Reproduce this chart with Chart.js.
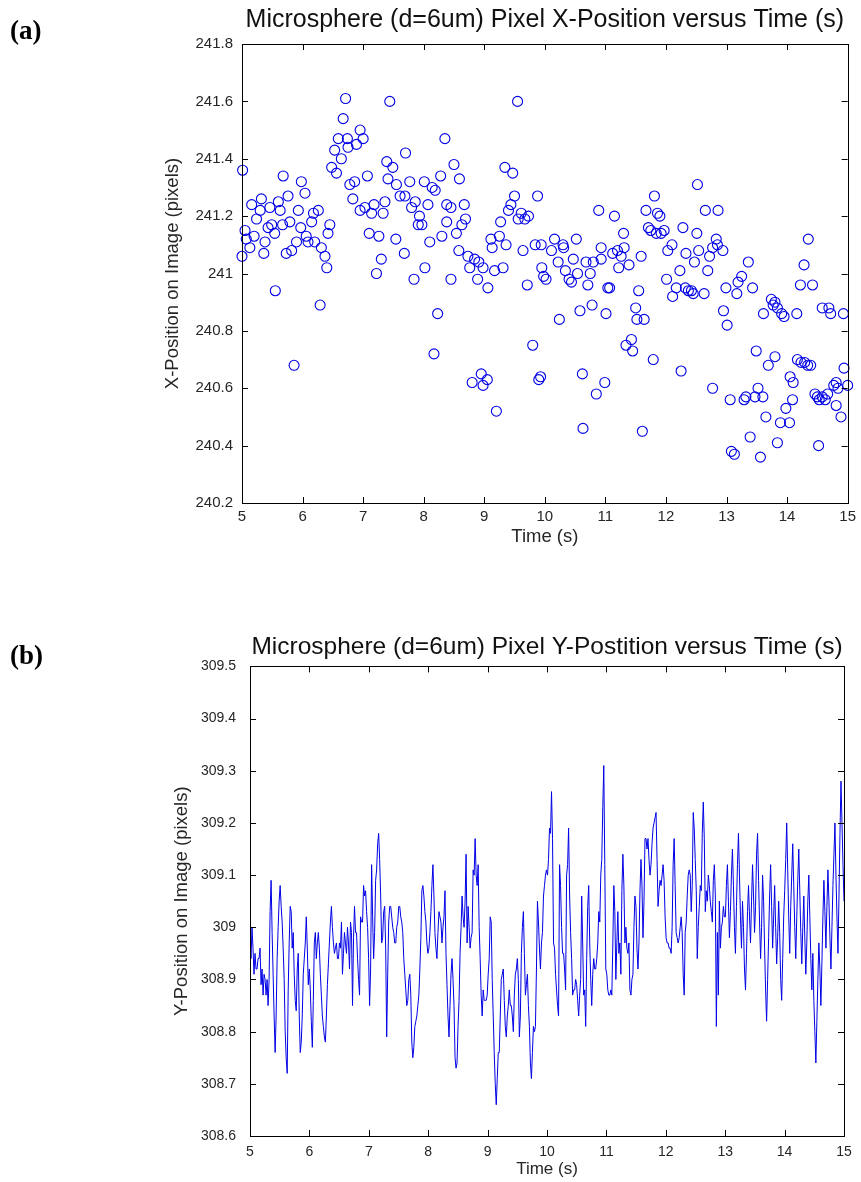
<!DOCTYPE html>
<html>
<head>
<meta charset="utf-8">
<script src="https://cdn.jsdelivr.net/npm/chart.js@4.4.0/dist/chart.umd.min.js"></script>
<style>
  html, body { margin: 0; padding: 0; background: #fff; }
  body { width: 861px; height: 1182px; position: relative; overflow: hidden; }
  canvas { position: absolute; left: 0; }
  #chartA { top: 0; }
  #chartB { top: 620px; }
  .tag { position: absolute; left: 10px; font: bold 27px "Liberation Serif", "Times New Roman", serif; color: #000; z-index: 2; }
</style>
</head>
<body>
<div class="tag" style="top:15px">(a)</div>
<div class="tag" style="top:640px">(b)</div>
<canvas id="chartA" width="861" height="560"></canvas>
<canvas id="chartB" width="861" height="562"></canvas>
<script>
// (a) x-position of the microsphere, one circle per frame
const timeA = [
  5.00,5.01,5.05,5.07,5.13,5.16,5.20,5.24,5.30,5.32,5.36,5.38,5.43,5.46,5.49,5.54,5.55,5.60,5.63,5.67,5.68,5.73,5.76,5.79,5.82,5.86,5.90,5.93,5.97,5.98,
  6.04,6.06,6.09,6.15,6.18,6.20,6.26,6.29,6.31,6.37,6.40,6.42,6.45,6.48,6.53,6.56,6.59,6.64,6.67,6.71,6.74,6.75,6.78,6.83,6.86,6.89,6.95,6.95,
  7.00,7.03,7.07,7.10,7.14,7.18,7.22,7.26,7.30,7.33,7.36,7.39,7.41,7.44,7.49,7.54,7.55,7.61,7.68,7.69,7.70,7.77,7.80,7.84,7.86,7.91,7.93,7.97,
  8.01,8.02,8.07,8.10,8.14,8.17,8.19,8.23,8.28,8.30,8.35,8.38,8.38,8.45,8.45,8.50,8.54,8.58,8.59,8.63,8.67,8.69,8.73,8.76,8.80,8.84,8.89,8.91,8.95,8.98,8.98,
  9.05,9.06,9.11,9.13,9.17,9.20,9.25,9.27,9.31,9.34,9.36,9.40,9.44,9.47,9.50,9.55,9.56,9.61,9.64,9.67,9.71,9.73,9.80,9.84,9.88,9.90,9.93,9.94,9.95,9.98,
  10.02,10.11,10.16,10.22,10.24,10.30,10.31,10.34,10.40,10.44,10.47,10.52,10.54,10.58,10.62,10.63,10.68,10.71,10.75,10.78,10.80,10.85,10.89,10.93,10.93,10.99,
  11.01,11.04,11.07,11.12,11.15,11.20,11.22,11.26,11.30,11.31,11.34,11.39,11.43,11.45,11.50,11.52,11.55,11.59,11.61,11.64,11.67,11.71,11.75,11.79,11.81,11.84,11.86,11.90,11.92,11.97,
  12.01,12.03,12.10,12.11,12.17,12.23,12.25,12.28,12.32,12.33,12.37,12.42,12.45,12.47,12.51,12.52,12.54,12.63,12.65,12.69,12.72,12.77,12.77,12.83,12.85,12.86,12.94,12.95,12.99,
  13.01,13.06,13.08,13.13,13.17,13.19,13.25,13.29,13.32,13.36,13.39,13.43,13.47,13.49,13.52,13.56,13.60,13.61,13.65,13.69,13.74,13.77,13.80,13.80,13.84,13.84,13.89,13.91,13.95,13.98,
  14.04,14.05,14.09,14.10,14.16,14.17,14.22,14.23,14.28,14.29,14.34,14.35,14.39,14.42,14.46,14.50,14.52,14.53,14.58,14.58,14.63,14.67,14.69,14.72,14.77,14.81,14.81,14.84,14.89,14.93,14.94,15.00
];
const posA = [
  241.06,241.36,241.15,241.12,241.09,241.24,241.13,241.19,241.22,241.26,241.07,241.11,241.16,241.23,241.17,241.14,240.94,241.25,241.22,241.17,241.34,241.07,241.27,241.18,241.08,240.68,241.11,241.22,241.16,241.32,
  241.28,241.13,241.11,241.18,241.21,241.11,241.22,240.89,241.09,241.06,241.02,241.14,241.17,241.37,241.43,241.35,241.47,241.40,241.54,241.61,241.47,241.44,241.31,241.26,241.32,241.45,241.50,241.22,
  241.47,241.23,241.34,241.14,241.21,241.24,241.00,241.13,241.05,241.21,241.25,241.39,241.33,241.60,241.37,241.12,241.31,241.27,241.07,241.27,241.42,241.32,241.23,240.98,241.25,241.17,241.20,241.17,
  241.32,241.02,241.24,241.11,241.30,240.72,241.29,240.86,241.34,241.13,241.47,241.24,241.18,241.23,240.98,241.38,241.14,241.08,241.33,241.17,241.24,241.19,241.06,241.02,240.62,241.05,240.98,241.04,240.65,240.61,241.02,
  240.63,240.95,241.12,241.09,241.01,240.52,241.13,241.18,241.02,241.37,241.10,241.22,241.24,241.35,241.27,241.60,241.19,241.21,241.08,241.19,240.96,241.20,240.75,241.10,241.27,240.63,240.64,241.10,241.02,240.99,
  240.98,241.08,241.12,241.04,240.84,241.10,241.09,241.01,240.98,240.97,241.05,241.12,241.00,240.87,240.65,240.46,241.04,240.96,241.00,240.89,241.04,240.58,241.22,241.09,241.05,240.62,
  240.86,240.95,240.95,241.07,241.20,241.08,241.02,241.06,241.14,241.09,240.75,241.03,240.77,240.73,240.88,240.84,240.94,241.06,240.45,240.84,241.22,241.16,241.15,240.70,241.27,241.14,241.21,241.20,241.14,241.15,
  240.98,241.08,241.10,240.92,240.95,241.01,240.66,241.16,240.95,241.07,240.94,240.94,240.93,241.04,241.14,241.31,241.08,240.93,241.22,241.01,241.06,241.09,240.60,241.12,241.10,241.22,241.08,240.87,240.95,
  240.82,240.56,240.38,240.37,240.93,240.97,240.99,240.56,240.57,241.04,240.43,240.95,240.57,240.73,240.60,240.36,240.57,240.86,240.50,240.68,240.91,240.89,240.90,240.71,240.88,240.41,240.48,240.86,240.85,240.53,
  240.48,240.64,240.56,240.62,240.86,240.70,240.96,240.69,241.03,240.69,240.68,241.12,240.68,240.96,240.58,240.57,240.40,240.56,240.57,240.88,240.56,240.58,240.88,240.86,240.61,240.62,240.54,240.60,240.50,240.86,240.67,240.61
];

// (b) y-position, one value per video frame from 5 s to 15 s
const startB = 5;
const endB = 15;
const posB = [
  308.98,308.94,309.00,308.96,308.91,308.95,308.92,308.92,308.94,308.94,
  308.96,308.89,308.92,308.87,308.91,308.90,308.87,308.90,308.85,308.90,
  309.03,309.09,308.99,308.91,308.83,308.76,308.83,308.94,309.00,309.05,
  309.08,309.04,309.01,308.96,308.90,308.80,308.75,308.72,308.88,308.97,
  309.04,309.03,308.96,308.99,308.91,308.86,308.84,308.92,308.95,308.83,
  308.76,308.78,308.83,308.91,308.94,308.97,309.02,308.96,308.89,308.92,
  308.88,308.82,308.77,308.86,308.97,308.99,308.94,308.97,308.99,308.96,
  308.91,308.87,308.83,308.81,308.79,308.78,308.83,308.89,308.93,308.97,
  309.01,309.04,309.00,308.97,308.95,308.96,308.97,308.94,308.94,308.97,
  308.96,309.01,308.91,308.95,308.99,308.97,308.95,309.00,308.97,308.92,
  309.01,308.99,308.85,308.98,309.04,308.99,308.99,308.94,308.90,308.87,
  309.02,309.01,
  309.01,309.08,309.06,309.07,309.03,309.00,308.94,308.85,308.92,309.12,
  309.02,308.94,308.99,309.09,309.11,309.16,309.18,309.13,309.06,308.97,
  308.98,309.03,309.04,308.96,308.79,308.91,309.01,309.04,309.04,309.02,
  309.00,308.99,308.97,308.97,309.00,309.01,309.04,309.04,309.02,309.01,
  308.99,308.94,308.91,308.88,308.85,308.86,308.90,308.91,308.87,308.78,
  308.75,308.77,308.81,308.82,308.83,308.85,308.87,308.92,308.98,309.07,
  309.08,309.06,309.03,309.01,308.97,308.95,308.96,308.99,309.03,309.08,
  309.12,309.06,308.99,308.96,308.94,308.99,309.03,309.02,309.01,308.97,
  309.00,309.02,309.07,308.95,308.89,308.83,308.79,308.85,308.91,308.94,
  308.90,308.85,308.75,308.73,308.74,308.81,308.86,308.95,309.00,309.06,
  309.02,309.00,309.05,309.14,308.97,309.04,309.00,308.96,308.98,308.99,
  309.11,309.10,309.17,309.10,309.08,309.12,309.00,308.94,308.87,308.83,
  308.88,308.86,308.86,308.86,308.87,308.91,308.94,309.02,309.01,308.90,
  308.83,308.76,308.70,308.66,308.71,308.76,308.76,308.83,308.90,308.91,
  308.92,308.86,308.81,308.79,308.83,308.85,308.88,308.85,308.85,308.83,
  308.80,308.87,308.91,308.92,308.94,308.90,308.79,308.83,308.95,309.00,
  309.03,308.95,308.87,308.89,308.91,308.85,308.81,308.74,308.71,308.76,
  308.81,308.80,308.81,308.92,309.05,309.01,308.96,308.92,308.97,308.99,
  309.06,309.08,309.10,309.11,309.10,309.13,309.19,309.18,309.26,309.17,
  308.97,308.96,308.91,308.88,308.85,308.83,309.12,309.08,309.00,308.95,
  308.95,308.92,308.88,309.10,309.12,309.19,309.06,308.99,308.94,308.87,
  308.88,308.88,308.90,308.89,308.86,308.83,308.87,308.90,309.06,308.97,
  308.87,308.88,308.81,308.94,309.04,309.08,308.97,308.90,308.85,308.91,
  308.94,308.92,308.92,308.94,308.97,309.03,309.01,309.10,309.13,309.23,
  309.31,309.12,308.92,308.91,308.88,308.87,308.87,308.88,308.87,308.97,
  309.08,309.03,308.90,308.97,309.03,308.95,308.97,308.91,309.07,309.14,
  309.08,308.97,309.00,308.96,308.95,308.97,308.88,308.87,308.90,308.91,
  309.00,309.06,309.04,308.96,308.92,308.97,309.07,309.13,309.08,308.98,
  309.05,309.17,309.17,309.15,309.17,309.13,309.10,309.12,309.16,309.19,
  309.20,309.21,309.22,309.13,309.04,309.07,309.09,309.08,309.10,309.12,
  309.09,309.02,308.98,308.97,308.97,308.96,308.96,308.95,309.00,309.12,
  309.17,309.08,308.99,308.98,308.97,308.98,309.00,309.02,308.99,308.91,
  308.87,308.99,309.01,309.06,309.10,309.11,309.10,309.03,309.08,309.22,
  309.19,309.13,309.07,308.94,309.00,309.04,309.08,309.07,309.18,309.24,
  309.17,309.03,309.07,309.05,309.10,309.08,309.05,309.03,309.01,309.09,
  309.12,309.06,308.81,308.99,308.87,309.05,308.96,309.00,309.01,309.04,
  309.02,
  309.02,309.08,309.12,309.05,308.98,309.03,309.10,309.15,309.08,309.00,
  308.95,309.04,309.12,309.18,309.10,309.02,308.96,309.05,309.00,308.92,
  308.88,308.95,309.03,309.08,309.02,308.97,309.05,309.12,309.06,308.99,
  309.04,309.14,309.18,309.09,309.01,308.94,309.00,309.10,309.05,308.96,
  308.88,308.82,308.90,308.98,309.06,309.12,309.04,308.96,309.02,309.08,
  309.00,308.93,308.98,309.05,308.99,308.90,308.86,308.94,309.02,309.07,
  309.13,309.20,309.11,309.02,308.95,309.04,309.10,309.16,309.08,309.00,
  308.94,309.02,309.09,309.15,309.07,308.99,308.93,309.00,309.06,308.98,
  308.91,308.97,309.05,309.10,309.02,308.94,308.88,308.95,308.86,308.80,
  308.74,308.82,308.90,308.97,308.92,308.85,308.93,309.02,309.09,309.03,
  308.96,309.04,309.11,309.05,308.98,308.92,309.00,309.08,309.14,309.20,
  309.10,309.02,308.95,309.06,309.18,309.28,309.20,309.12,309.05
];

// axis ticks
const timeTicks = [5, 6, 7, 8, 9, 10, 11, 12, 13, 14, 15];
const posTicksA = [240.2, 240.4, 240.6, 240.8, 241, 241.2, 241.4, 241.6, 241.8];
const posLabelsA = ['240.2', '240.4', '240.6', '240.8', '241', '241.2', '241.4', '241.6', '241.8'];
const posTicksB = [308.6, 308.7, 308.8, 308.9, 309, 309.1, 309.2, 309.3, 309.4, 309.5];
const posLabelsB = ['308.6', '308.7', '308.8', '308.9', '309', '309.1', '309.2', '309.3', '309.4', '309.5'];

const blue = '#0000e6';
const textCol = '#262626';
Chart.defaults.font.family = "'Liberation Sans', Arial, sans-serif";
Chart.defaults.color = textCol;

// matlab-style box with inward ticks on all four sides
const boxTicks = {
  id: 'boxTicks',
  afterDraw(chart) {
    const { ctx, chartArea: a, scales: { x, y } } = chart;
    const len = 6;
    ctx.save();
    ctx.strokeStyle = '#000';
    ctx.lineWidth = 1;
    ctx.beginPath();
    x.ticks.forEach(t => {
      const px = Math.round(x.getPixelForValue(t.value)) + 0.5;
      ctx.moveTo(px, a.bottom); ctx.lineTo(px, a.bottom - len);
      ctx.moveTo(px, a.top); ctx.lineTo(px, a.top + len);
    });
    y.ticks.forEach(t => {
      const py = Math.round(y.getPixelForValue(t.value)) + 0.5;
      ctx.moveTo(a.left, py); ctx.lineTo(a.left + len, py);
      ctx.moveTo(a.right, py); ctx.lineTo(a.right - len, py);
    });
    ctx.stroke();
    ctx.strokeRect(Math.round(a.left) + 0.5, Math.round(a.top) + 0.5,
      Math.round(a.right - a.left), Math.round(a.bottom - a.top));
    ctx.restore();
  }
};

function timeAxis(cfg) {
  return {
    type: 'linear', min: 5, max: 15,
    afterBuildTicks: s => { s.ticks = timeTicks.map(v => ({ value: v })); },
    afterFit: s => { s.height = cfg.height; },
    grid: { display: false, drawTicks: false },
    border: { display: false },
    ticks: { autoSkip: false, maxRotation: 0, padding: cfg.tickPad, font: { size: cfg.tickSize }, callback: v => String(v) },
    title: { display: true, text: 'Time (s)', font: { size: cfg.titleSize }, padding: { top: 0, bottom: cfg.titleBottom } }
  };
}

function posAxis(cfg) {
  return {
    type: 'linear', min: cfg.ticks[0], max: cfg.ticks[cfg.ticks.length - 1],
    afterBuildTicks: s => { s.ticks = cfg.ticks.map(v => ({ value: v })); },
    afterFit: s => { s.width = cfg.width; },
    grid: { display: false, drawTicks: false },
    border: { display: false },
    ticks: { autoSkip: false, padding: cfg.tickPad, font: { size: cfg.tickSize }, callback: (v, i) => cfg.labels[i] },
    title: { display: true, text: cfg.title, font: { size: cfg.titleSize }, padding: { top: cfg.titleLeft, bottom: 0 } }
  };
}

new Chart(document.getElementById('chartA'), {
  type: 'scatter',
  data: {
    datasets: [{
      data: timeA.map((t, i) => ({ x: t, y: posA[i] })),
      pointStyle: 'circle',
      pointRadius: 5,
      pointBorderWidth: 1.1,
      borderColor: blue,
      backgroundColor: 'rgba(0,0,0,0)',
      clip: false
    }]
  },
  options: {
    responsive: false,
    animation: false,
    devicePixelRatio: 1,
    layout: { padding: { left: 0, right: 12, top: 0, bottom: 0 } },
    plugins: {
      legend: { display: false },
      tooltip: { enabled: false },
      title: {
        display: true, fullSize: false, color: '#111',
        text: 'Microsphere (d=6um) Pixel X-Position versus Time (s)',
        font: { size: 25, weight: 'normal' },
        padding: { top: 5, bottom: 9 }
      }
    },
    scales: {
      x: timeAxis({ height: 57, tickPad: 5, tickSize: 15, titleSize: 18.5, titleBottom: 12 }),
      y: posAxis({ ticks: posTicksA, labels: posLabelsA, width: 242, tickPad: 9, tickSize: 15,
        title: 'X-Position on Image (pixels)', titleSize: 18.5, titleLeft: 162 })
    }
  },
  plugins: [boxTicks]
});

const stepB = (endB - startB) / (posB.length - 1);
new Chart(document.getElementById('chartB'), {
  type: 'line',
  data: {
    datasets: [{
      data: posB.map((v, i) => ({ x: startB + i * stepB, y: v })),
      borderColor: blue,
      borderWidth: 1,
      pointRadius: 0,
      tension: 0,
      fill: false
    }]
  },
  options: {
    responsive: false,
    animation: false,
    devicePixelRatio: 1,
    layout: { padding: { left: 0, right: 17, top: 0, bottom: 0 } },
    plugins: {
      legend: { display: false },
      tooltip: { enabled: false },
      title: {
        display: true, fullSize: false, color: '#111',
        text: 'Microsphere (d=6um) Pixel Y-Postition versus Time (s)',
        font: { size: 24.5, weight: 'normal' },
        padding: { top: 13, bottom: 4 }
      }
    },
    scales: {
      x: timeAxis({ height: 46, tickPad: 8, tickSize: 14, titleSize: 17, titleBottom: 2 }),
      y: posAxis({ ticks: posTicksB, labels: posLabelsB, width: 250, tickPad: 14, tickSize: 14,
        title: 'Y-Position on Image (pixels)', titleSize: 18.5, titleLeft: 171 })
    }
  },
  plugins: [boxTicks]
});
</script>
</body>
</html>
